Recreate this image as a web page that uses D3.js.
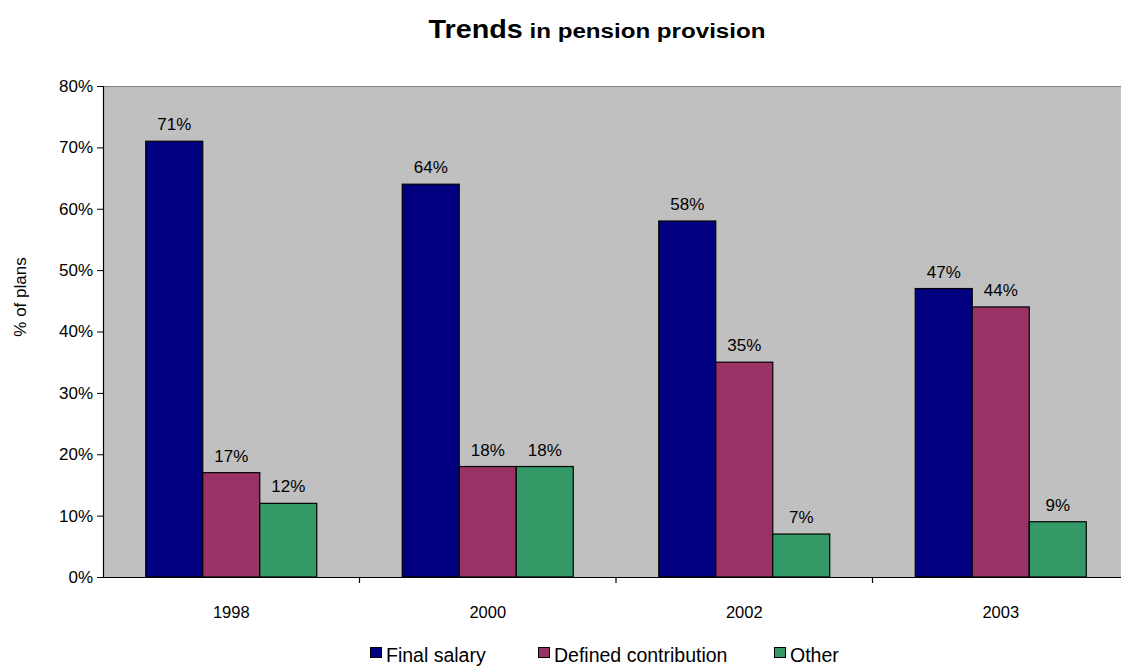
<!DOCTYPE html>
<html>
<head>
<meta charset="utf-8">
<script src="https://cdn.jsdelivr.net/npm/d3@7"></script>
<style>
  html, body { margin: 0; padding: 0; background: #fff; }
  svg { display: block; font-family: Arial, "Liberation Sans", sans-serif; }
</style>
</head>
<body>
<svg id="chart" width="1121" height="667"></svg>
<script>
// Pension plan types by year (% of plans)
const years = ["1998", "2000", "2002", "2003"];
const seriesNames = ["Final salary", "Defined contribution", "Other"];
const finalSalary = [71, 64, 58, 47];
const definedContribution = [17, 18, 35, 44];
const other = [12, 18, 7, 9];
const yTicks = [0, 10, 20, 30, 40, 50, 60, 70, 80];
const seriesColors = ["#000080", "#993366", "#339966"];

const seriesValues = [finalSalary, definedContribution, other];

const svg = d3.select("#chart");
const plotLeft = 103, plotTop = 86, plotBottom = 577, plotRight = 1129;
const fontFamily = "Arial, 'Liberation Sans', sans-serif";

const x = d3.scaleBand().domain(years).range([plotLeft, plotRight]).paddingInner(0).paddingOuter(0);
const xInner = d3.scaleBand().domain(seriesNames).range([0, x.bandwidth()]).paddingInner(0).paddingOuter(0.75);
const y = d3.scaleLinear().domain([0, 80]).range([plotBottom, plotTop]);

// plot background
svg.append("rect")
  .attr("x", plotLeft).attr("y", plotTop)
  .attr("width", plotRight - plotLeft).attr("height", plotBottom - plotTop)
  .attr("fill", "#c0c0c0");
svg.append("line")
  .attr("x1", plotLeft).attr("x2", plotRight)
  .attr("y1", plotTop + 0.5).attr("y2", plotTop + 0.5)
  .attr("stroke", "#808080").attr("stroke-width", 1);

// bars
const groups = svg.append("g").selectAll("g")
  .data(years)
  .join("g")
  .attr("transform", d => `translate(${x(d)},0)`);

groups.selectAll("rect")
  .data((d, i) => seriesNames.map((s, j) => ({ s, v: seriesValues[j][i], c: seriesColors[j] })))
  .join("rect")
  .attr("x", d => xInner(d.s))
  .attr("y", d => y(d.v))
  .attr("width", xInner.bandwidth())
  .attr("height", d => y(0) - y(d.v))
  .attr("fill", d => d.c)
  .attr("stroke", "#000")
  .attr("stroke-width", 1.2);

groups.selectAll("text")
  .data((d, i) => seriesNames.map((s, j) => ({ s, v: seriesValues[j][i] })))
  .join("text")
  .attr("x", d => xInner(d.s) + xInner.bandwidth() / 2)
  .attr("y", d => y(d.v) - 11)
  .attr("text-anchor", "middle")
  .attr("font-size", 17)
  .attr("fill", "#000")
  .text(d => d.v + "%");

// y axis
const yAxis = d3.axisLeft(y).tickValues(yTicks).tickFormat(d => d + "%").tickSize(6).tickPadding(4);
const gy = svg.append("g").attr("transform", `translate(${plotLeft},0)`).call(yAxis);
gy.select(".domain").attr("stroke", "#000").attr("stroke-width", 1.2);
gy.selectAll(".tick line").attr("stroke", "#000");
gy.selectAll(".tick text").attr("font-size", 17).attr("fill", "#000").attr("font-family", fontFamily);

// x axis
const xAxis = d3.axisBottom(x).tickSize(0).tickPadding(29);
const gx = svg.append("g").attr("transform", `translate(0,${plotBottom})`).call(xAxis);
gx.select(".domain").attr("stroke", "#000").attr("stroke-width", 1.2);
gx.selectAll(".tick text").attr("font-size", 16.5).attr("fill", "#000").attr("font-family", fontFamily);
// category separators
gx.selectAll(".sep")
  .data(years.slice(1))
  .join("line")
  .attr("class", "sep")
  .attr("x1", d => x(d)).attr("x2", d => x(d))
  .attr("y1", 0).attr("y2", 6)
  .attr("stroke", "#000").attr("stroke-width", 1.2);

// axis title
svg.append("text")
  .attr("transform", "translate(26,297) rotate(-90)")
  .attr("text-anchor", "middle")
  .attr("font-size", 17)
  .attr("fill", "#000")
  .text("% of plans");

// chart title (slightly widened lettering)
const title = svg.append("text")
  .attr("transform", "translate(597,38) scale(1.15,1)")
  .attr("text-anchor", "middle")
  .attr("font-weight", "bold")
  .attr("fill", "#000");
title.append("tspan").attr("font-size", 25).text("Trends");
title.append("tspan").attr("font-size", 21).text(" in pension provision");

// legend
const legendX = [370, 538, 774];
const legend = svg.append("g").selectAll("g")
  .data(seriesNames)
  .join("g")
  .attr("transform", (d, i) => `translate(${legendX[i]},0)`);
legend.append("rect")
  .attr("x", 0.5).attr("y", 647.5)
  .attr("width", 11).attr("height", 10)
  .attr("fill", (d, i) => seriesColors[i])
  .attr("stroke", "#000").attr("stroke-width", 1);
legend.append("text")
  .attr("x", 16).attr("y", 662)
  .attr("font-size", 19.5)
  .attr("fill", "#000")
  .text(d => d);
</script>
</body>
</html>
